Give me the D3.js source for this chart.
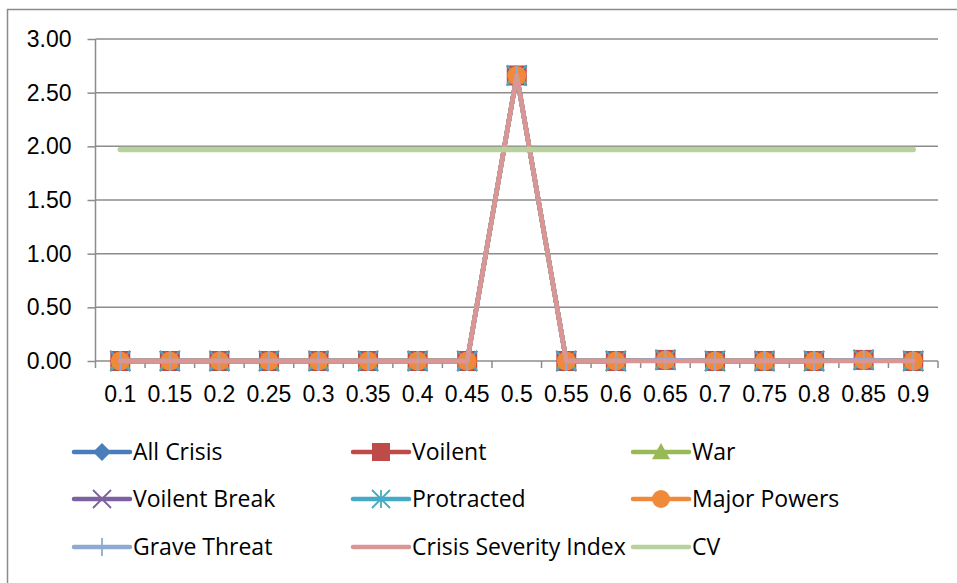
<!DOCTYPE html>
<html>
<head>
<meta charset="utf-8">
<script src="https://cdn.jsdelivr.net/npm/d3@7"></script>
<style>
	body { margin: 0; background: #fff; }
	svg { display: block; font-family: "Open Sans", "Noto Sans", sans-serif; }
</style>
</head>
<body>
<div id="chart"></div>
<script>
const categories = ["0.1", "0.15", "0.2", "0.25", "0.3", "0.35", "0.4", "0.45", "0.5",
	"0.55", "0.6", "0.65", "0.7", "0.75", "0.8", "0.85", "0.9"];

const all_crisis    = [0, 0, 0, 0, 0, 0, 0, 0, 2.66, 0, 0, 0.01, 0, 0, 0, 0.01, 0];
const voilent       = [0, 0, 0, 0, 0, 0, 0, 0, 2.66, 0, 0, 0.01, 0, 0, 0, 0.01, 0];
const war           = [0, 0, 0, 0, 0, 0, 0, 0, 2.66, 0, 0, 0.01, 0, 0, 0, 0.01, 0];
const voilent_break = [0, 0, 0, 0, 0, 0, 0, 0, 2.66, 0, 0, 0.01, 0, 0, 0, 0.01, 0];
const protracted    = [0, 0, 0, 0, 0, 0, 0, 0, 2.66, 0, 0, 0.01, 0, 0, 0, 0.01, 0];
const major_powers  = [0, 0, 0, 0, 0, 0, 0, 0, 2.66, 0, 0, 0.01, 0, 0, 0, 0.01, 0];
const grave_threat  = [0, 0, 0, 0, 0, 0, 0, 0, 2.66, 0, 0, 0.01, 0, 0, 0, 0.01, 0];
const crisis_index  = [0, 0, 0, 0, 0, 0, 0, 0, 2.66, 0, 0, 0, 0, 0, 0, 0, 0];
const cv            = [1.97, 1.97, 1.97, 1.97, 1.97, 1.97, 1.97, 1.97, 1.97,
	1.97, 1.97, 1.97, 1.97, 1.97, 1.97, 1.97, 1.97];

const y_ticks = [0, 0.5, 1, 1.5, 2, 2.5, 3];

const series = [
	{ name: "All Crisis", values: all_crisis, color: "#4a7ebb", marker: "diamond" },
	{ name: "Voilent", values: voilent, color: "#be4b48", marker: "square" },
	{ name: "War", values: war, color: "#98b954", marker: "triangle" },
	{ name: "Voilent Break", values: voilent_break, color: "#7d60a0", marker: "x" },
	{ name: "Protracted", values: protracted, color: "#46aac5", marker: "star" },
	{ name: "Major Powers", values: major_powers, color: "#f08a3a", marker: "circle" },
	{ name: "Grave Threat", values: grave_threat, color: "#8eaad3", marker: "plus" },
	{ name: "Crisis Severity Index", values: crisis_index, color: "#d99694", marker: null },
	{ name: "CV", values: cv, color: "#b7d29c", marker: null }
];

const W = 957, H = 583;
const m = { top: 39, left: 95.5, right: 938, bottom: 361 };
const grid = "#8c8c8c";
const FS = 23;

const svg = d3.select('#chart').append('svg')
	.attr('width', W)
	.attr('height', H);

svg.append('rect')
	.attr('x', 7.5).attr('y', 9.5)
	.attr('width', W + 10).attr('height', H + 10)
	.attr('fill', '#fff')
	.attr('stroke', grid)
	.attr('stroke-width', 1.5);

const x = d3.scaleBand()
	.domain(categories)
	.range([m.left, m.right]);

const y = d3.scaleLinear()
	.domain([0, 3])
	.range([m.bottom, m.top]);

// horizontal grid + left ticks
const ya = svg.append('g')
	.attr('transform', `translate(${m.left},0)`)
	.call(d3.axisLeft(y).tickValues(y_ticks).tickFormat(d3.format('.2f')).tickSize(8).tickPadding(16));
ya.select('.domain').remove();
ya.selectAll('.tick line').attr('stroke', grid).attr('stroke-width', 1.5);
ya.selectAll('.tick text').attr('font-size', FS).attr('fill', '#000');

svg.append('g').selectAll('line')
	.data(y_ticks.filter(d => d > 0))
	.enter().append('line')
	.attr('x1', m.left).attr('x2', m.right)
	.attr('y1', d => y(d)).attr('y2', d => y(d))
	.attr('stroke', grid)
	.attr('stroke-width', 1.5);

svg.append('line')
	.attr('x1', m.left).attr('x2', m.left)
	.attr('y1', m.top).attr('y2', m.bottom)
	.attr('stroke', grid).attr('stroke-width', 1.5);

// x axis, ticks on band edges
const xa = svg.append('g')
	.attr('transform', `translate(0,${m.bottom})`)
	.call(d3.axisBottom(x).tickSize(0).tickPadding(25));
xa.select('.domain').remove();
xa.selectAll('.tick text').attr('font-size', FS).attr('fill', '#000');

svg.append('line')
	.attr('x1', m.left).attr('x2', m.right)
	.attr('y1', m.bottom).attr('y2', m.bottom)
	.attr('stroke', grid).attr('stroke-width', 1.5);

const edges = categories.map(c => x(c)).concat([m.right]);
svg.append('g').selectAll('line')
	.data(edges)
	.enter().append('line')
	.attr('x1', d => d).attr('x2', d => d)
	.attr('y1', m.bottom).attr('y2', m.bottom + 7)
	.attr('stroke', grid).attr('stroke-width', 1.5);

const cx = c => x(c) + x.bandwidth() / 2;

function marker(g, type, color, s) {
	// s = half size
	if (type === 'diamond')
		g.append('path').attr('d', `M0,${-s}L${s},0L0,${s}L${-s},0Z`).attr('fill', color);
	else if (type === 'square')
		g.append('rect').attr('x', -s).attr('y', -s).attr('width', 2*s).attr('height', 2*s).attr('fill', color);
	else if (type === 'triangle')
		g.append('path').attr('d', `M0,${-s}L${s},${s*0.8}L${-s},${s*0.8}Z`).attr('fill', color);
	else if (type === 'circle')
		g.append('circle').attr('r', s).attr('fill', color);
	else if (type === 'x')
		g.append('path').attr('d', `M${-s},${-s}L${s},${s}M${-s},${s}L${s},${-s}`)
			.attr('stroke', color).attr('stroke-width', 1.8);
	else if (type === 'star')
		g.append('path').attr('d', `M${-s},${-s}L${s},${s}M${-s},${s}L${s},${-s}M0,${-s}L0,${s}`)
			.attr('stroke', color).attr('stroke-width', 1.8);
	else if (type === 'plus')
		g.append('path').attr('d', `M0,${-s}L0,${s}`)
			.attr('stroke', color).attr('stroke-width', 1.8);
}

const line = d3.line()
	.x((d, i) => cx(categories[i]))
	.y(d => y(d));

const plot = svg.append('g');
for (let s of series) {
	plot.append('path')
		.datum(s.values)
		.attr('d', line)
		.attr('fill', 'none')
		.attr('stroke', s.color)
		.attr('stroke-width', s.name === 'CV' ? 5.5 : 4.5)
		.attr('stroke-linejoin', 'round')
		.attr('stroke-linecap', 'round');

	if (!s.marker) continue;
	plot.selectAll(null)
		.data(s.values)
		.enter().append('g')
		.attr('transform', (d, i) => `translate(${cx(categories[i])},${y(d)})`)
		.each(function() { marker(d3.select(this), s.marker, s.color, s.marker === 'circle' ? 9.5 : 10); });
}

// legend
const cols = [74, 353, 633];
const rows = [452, 499, 547];
const lg = svg.append('g');
series.forEach((s, i) => {
	const lx = cols[i % 3], ly = rows[Math.floor(i / 3)];
	const g = lg.append('g').attr('transform', `translate(${lx},${ly})`);
	g.append('line')
		.attr('x1', 0).attr('x2', 56)
		.attr('stroke', s.color)
		.attr('stroke-width', 4.5)
		.attr('stroke-linecap', 'round');
	if (s.marker) {
		const mg = g.append('g').attr('transform', 'translate(28,0)');
		marker(mg, s.marker, s.color, 9);
	}
	g.append('text')
		.attr('x', 59)
		.attr('dy', '0.35em')
		.attr('font-size', FS)
		.attr('fill', '#000')
		.text(s.name);
});
</script>
</body>
</html>
